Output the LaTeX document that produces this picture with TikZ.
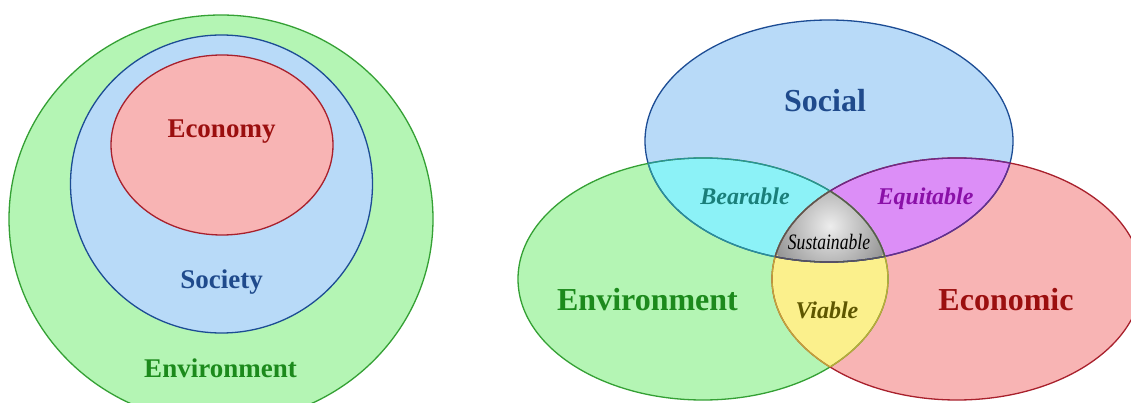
\documentclass[tikz,border=0pt]{standalone}
\usepackage{fontspec}
\setmainfont{Liberation Serif}
\usepackage{graphicx}
\definecolor{envfill}{HTML}{B4F5B4}
\definecolor{socfill}{HTML}{B8DAF8}
\definecolor{ecofill}{HTML}{F8B4B4}
\definecolor{bearfill}{HTML}{8CF2F7}
\definecolor{equifill}{HTML}{DC8EF7}
\definecolor{viafill}{HTML}{FBF08C}
\definecolor{envline}{HTML}{34A034}
\definecolor{socline}{HTML}{1C4C94}
\definecolor{ecoline}{HTML}{A8202C}
\definecolor{bearline}{HTML}{2A9098}
\definecolor{equiline}{HTML}{6A2A8A}
\definecolor{vialine}{HTML}{C0A838}
\definecolor{susline}{HTML}{555555}
\definecolor{envtext}{HTML}{1C8A1C}
\definecolor{soctext}{HTML}{1F4A8C}
\definecolor{ecotext}{HTML}{9B0F0F}
\definecolor{beartext}{HTML}{1A7F7A}
\definecolor{equitext}{HTML}{8A10A8}
\definecolor{viatext}{HTML}{5E5600}
\begin{document}
\begin{tikzpicture}[x=1pt,y=-1pt,
  border/.style={line width=1.3pt},
  lab/.style={font=\bfseries\fontsize{27}{30}\selectfont, inner sep=0pt, anchor=base},
  biglab/.style={font=\bfseries\fontsize{32}{36}\selectfont, inner sep=0pt, anchor=base},
  itlab/.style={font=\bfseries\itshape\fontsize{24}{28}\selectfont, inner sep=0pt, anchor=base},
  suslab/.style={font=\itshape\fontsize{22}{26}\selectfont, inner sep=0pt, anchor=base}]
\useasboundingbox (0,0) rectangle (1131,403);
\fill[white] (0,0) rectangle (1131,403);
\def\socpath{(829,141) ellipse [x radius=184pt, y radius=121pt]}
\def\envpath{(703,279) ellipse [x radius=185pt, y radius=121pt]}
\def\ecopath{(957,279) ellipse [x radius=185pt, y radius=121pt]}
\begin{scope}
\clip (0,0) rectangle (1131,403);
% ---------- left diagram ----------
\filldraw[fill=envfill, draw=envline, border] (221,219) ellipse [x radius=212pt, y radius=204pt];
\filldraw[fill=socfill, draw=socline, border] (221.5,184) ellipse [x radius=151pt, y radius=149pt];
\filldraw[fill=ecofill, draw=ecoline, border] (222,145) ellipse [x radius=111pt, y radius=90pt];
% ---------- right diagram ----------
\fill[envfill] \envpath;
\fill[ecofill] \ecopath;
\fill[socfill] \socpath;
\begin{scope}\clip \socpath; \fill[bearfill] \envpath; \end{scope}
\begin{scope}\clip \socpath; \fill[equifill] \ecopath; \end{scope}
\begin{scope}\clip \envpath; \fill[viafill] \ecopath; \end{scope}
\begin{scope}\clip \socpath; \clip \envpath; \clip \ecopath;
  \shade[inner color=black!7, outer color=black!42] (830,226) circle [radius=60pt];
\end{scope}
% borders
\draw[socline, border] \socpath;
\draw[envline, border] \envpath;
\draw[ecoline, border] \ecopath;
\begin{scope}\clip \envpath; \draw[bearline, border] \socpath; \end{scope}
\begin{scope}\clip \ecopath; \draw[equiline, border] \socpath; \end{scope}
\begin{scope}\clip \socpath; \draw[bearline, border] \envpath; \end{scope}
\begin{scope}\clip \ecopath; \draw[vialine, border] \envpath; \end{scope}
\begin{scope}\clip \socpath; \draw[equiline, border] \ecopath; \end{scope}
\begin{scope}\clip \envpath; \draw[vialine, border] \ecopath; \end{scope}
\begin{scope}\clip \envpath; \clip \ecopath; \draw[susline, border] \socpath; \end{scope}
\begin{scope}\clip \socpath; \clip \ecopath; \draw[susline, border] \envpath; \end{scope}
\begin{scope}\clip \socpath; \clip \envpath; \draw[susline, border] \ecopath; \end{scope}
\end{scope}
% ---------- labels ----------
\node[lab, text=ecotext] (economy) at (221.5,138) {Economy};
\node[lab, text=soctext] (society) at (221.5,288) {Society};
\node[lab, text=envtext] (environment) at (220.5,377) {Environment};
\node[biglab, text=soctext] (social) at (825,112) {Social};
\node[biglab, text=envtext] (environment2) at (647.5,310) {Environment};
\node[biglab, text=ecotext] (economic) at (1006,310) {Economic};
\node[itlab, text=beartext] (bearable) at (745,205) {Bearable};
\node[itlab, text=equitext] (equitable) at (925.5,205) {Equitable};
\node[itlab, text=viatext] (viable) at (827,318) {Viable};
\node[suslab, text=black] (sustainable) at (829,249) {\scalebox{0.8}[1]{Sustainable}};
\end{tikzpicture}
\end{document}
